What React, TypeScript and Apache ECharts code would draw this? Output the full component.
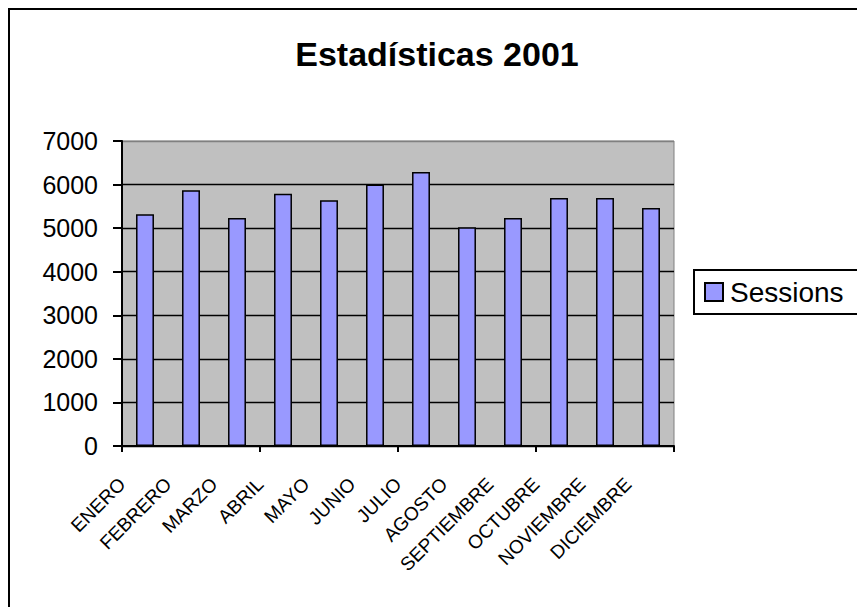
import React, { useEffect, useRef } from "react";
import * as echarts from "echarts";

const months = [
  "ENERO", "FEBRERO", "MARZO", "ABRIL", "MAYO", "JUNIO",
  "JULIO", "AGOSTO", "SEPTIEMBRE", "OCTUBRE", "NOVIEMBRE", "DICIEMBRE",
];
const sessions = [5320, 5870, 5230, 5790, 5640, 6000, 6290, 5020, 5230, 5690, 5690, 5460];
const yTicks = { min: 0, max: 7000, interval: 1000 };
const seriesName = "Sessions";
const titleText = "Estadísticas 2001";

export default function App() {
  const ref = useRef<HTMLDivElement>(null);
  useEffect(() => {
    if (!ref.current) return;
    const chart = echarts.init(ref.current, undefined, { renderer: "svg" });
    const font = "'Liberation Sans', Arial, sans-serif";
    chart.setOption({
      animation: false,
      backgroundColor: "#fff",
      textStyle: { fontFamily: font, color: "#000" },
      title: {
        text: titleText,
        left: 432,
        top: 32,
        textAlign: "center",
        textStyle: { fontFamily: font, fontSize: 34, fontWeight: "bold", color: "#000" },
      },
      legend: {
        data: [seriesName],
        left: 694,
        top: 270,
        orient: "vertical",
        borderColor: "#000",
        borderWidth: 2,
        padding: [8, 60, 8, 10],
        itemWidth: 18,
        itemHeight: 18,
        itemGap: 0,
        icon: "rect",
        textStyle: { fontFamily: font, fontSize: 28, color: "#000", padding: [0, 0, 0, 2] },
      },
      graphic: [
        {
          type: "rect",
          shape: { x: 9, y: 9, width: 1000, height: 800 },
          style: { fill: "none", stroke: "#000", lineWidth: 2 },
          silent: true,
          z: 100,
        },
      ],
      grid: {
        left: 122,
        top: 141,
        right: 183,
        bottom: 161,
        show: true,
        backgroundColor: "#C0C0C0",
        borderColor: "#808080",
        borderWidth: 1,
      },
      xAxis: [
        {
          type: "category",
          data: months,
          position: "bottom",
          axisLine: { lineStyle: { color: "#000", width: 2 } },
          axisTick: { show: true, length: 6, lineStyle: { color: "#000", width: 2 } },
          axisLabel: { show: false },
        },
        {
          type: "category",
          data: [...months, ""],
          position: "bottom",
          offset: 0,
          boundaryGap: false,
          axisLine: { show: false },
          axisTick: { show: false },
          axisLabel: {
            interval: 0,
            rotate: 45,
            fontSize: 19,
            margin: 35,
            color: "#000",
            fontFamily: font,
          },
        },
      ],
      yAxis: {
        type: "value",
        min: yTicks.min,
        max: yTicks.max,
        interval: yTicks.interval,
        axisLine: { show: true, lineStyle: { color: "#000", width: 2 } },
        axisTick: { show: true, length: 9, lineStyle: { color: "#000", width: 2 } },
        axisLabel: {
          fontSize: 25,
          color: "#000",
          margin: 24,
          fontFamily: font,
          formatter: (v: number) => String(v),
        },
        splitLine: {
          show: true,
          lineStyle: {
            color: ["#000", "#000", "#000", "#000", "#000", "#000", "#000", "#808080"],
            width: 1.3,
          },
        },
      },
      series: [
        {
          name: seriesName,
          type: "bar",
          xAxisIndex: 0,
          data: sessions,
          barWidth: "39%",
          itemStyle: { color: "#9999FF", borderColor: "#000", borderWidth: 1.5 },
        },
      ],
    });
    return () => chart.dispose();
  }, []);
  return (
    <div
      ref={ref}
      style={{ position: "fixed", left: 0, top: 0, width: 857, height: 607 }}
    />
  );
}
